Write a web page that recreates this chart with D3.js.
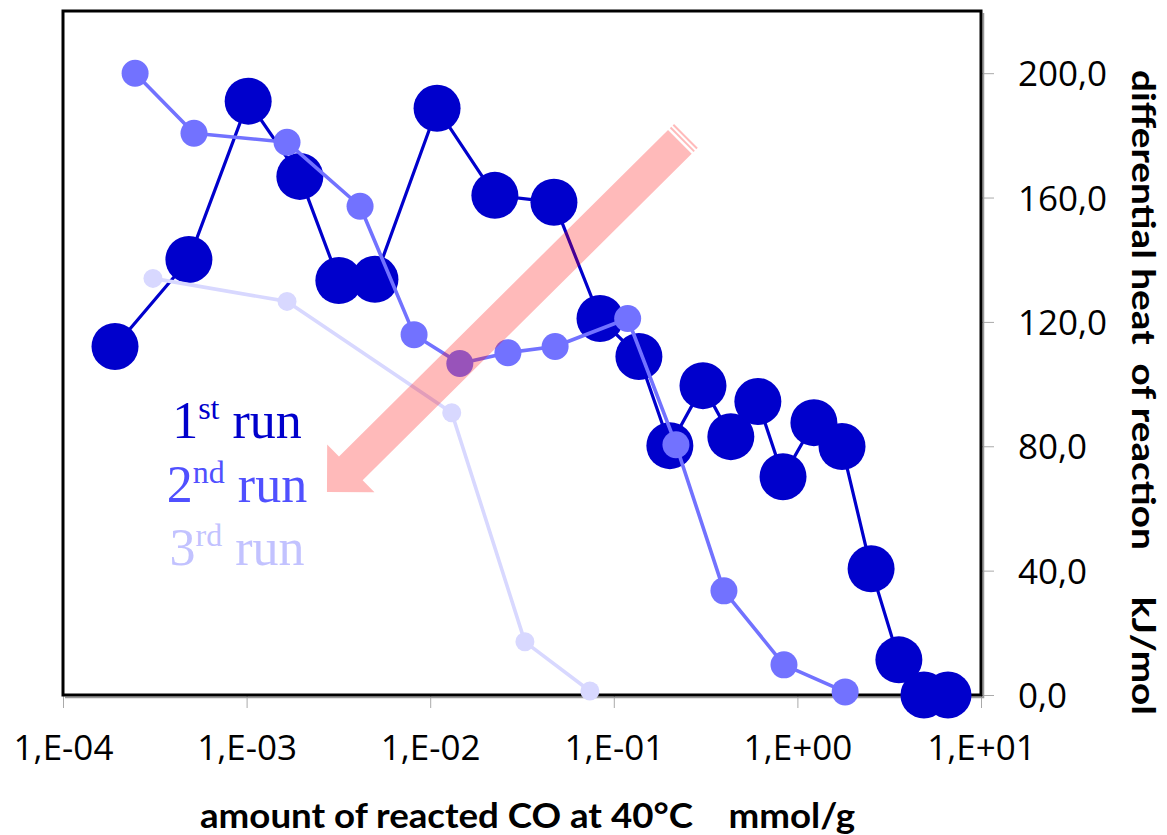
<!DOCTYPE html>
<html>
<head>
<meta charset="utf-8">
<script src="https://cdn.jsdelivr.net/npm/d3@7"></script>
<style>
  html, body { margin: 0; padding: 0; background: #fff; }
  svg { display: block; }
</style>
</head>
<body>
<svg id="chart" width="1167" height="835"></svg>
<script>
// Amount of reacted CO (mmol/g) and differential heat (kJ/mol), three adsorption runs
const run1X = [1.92e-4, 4.85e-4, 1.02e-3, 1.95e-3, 3.18e-3, 5.0e-3, 1.09e-2, 2.25e-2, 4.72e-2, 8.41e-2, 0.137, 0.202, 0.306, 0.434, 0.609, 0.835, 1.23, 1.75, 2.52, 3.57, 4.89, 6.61];
const run1Y = [112.1, 140.1, 191.0, 166.8, 133.3, 133.7, 188.7, 160.7, 158.5, 121.1, 108.9, 80.2, 99.5, 83.1, 94.4, 70.2, 87.6, 79.9, 40.6, 11.3, 0.0, 0.0];

const run2X = [2.47e-4, 5.17e-4, 1.66e-3, 4.15e-3, 8.17e-3, 1.45e-2, 2.65e-2, 4.79e-2, 0.119, 0.218, 0.398, 0.845, 1.82];
const run2Y = [200.0, 180.7, 177.8, 157.2, 115.9, 106.6, 110.1, 112.1, 121.1, 80.5, 33.5, 9.7, 1.0];

const run3X = [3.09e-4, 1.66e-3, 1.31e-2, 3.28e-2, 7.41e-2];
const run3Y = [134.0, 126.6, 90.8, 17.1, 1.3];

const xTicks = [1e-4, 1e-3, 1e-2, 1e-1, 1e0, 1e1];
const xTickLabels = ["1,E-04", "1,E-03", "1,E-02", "1,E-01", "1,E+00", "1,E+01"];
const yTicks = [0, 40, 80, 120, 160, 200];
const yTickLabels = ["0,0", "40,0", "80,0", "120,0", "160,0", "200,0"];

const runNames = [["1", "st", " run"], ["2", "nd", " run"], ["3", "rd", " run"]];

// trend arrow, from its tail to its tip, in data units
const arrowFrom = [0.229, 177.9];
const arrowTo = [2.74e-3, 65.3];

const svg = d3.select("#chart");
const plot = { left: 63, right: 981, top: 11, bottom: 695 };

const x = d3.scaleLog().domain([1e-4, 1e1]).range([plot.left, plot.right]);
const y = d3.scaleLinear().domain([0, 220]).range([plot.bottom, plot.top]);

const tickFont = "'Open Sans', 'DejaVu Sans', sans-serif";
const titleFont = "Lato, 'Open Sans', sans-serif";

// x axis (bottom)
const xAxis = d3.axisBottom(x).tickValues(xTicks).tickSize(13).tickSizeOuter(0)
  .tickFormat((d, i) => xTickLabels[i]);
const gx = svg.append("g").attr("transform", `translate(0,${plot.bottom})`).call(xAxis);
gx.select(".domain").attr("stroke", "#888").attr("stroke-width", 1);
gx.selectAll(".tick line").attr("stroke", "#aaa").attr("stroke-width", 1);
gx.selectAll(".tick text").attr("font-family", tickFont).attr("font-size", 35)
  .attr("fill", "#000").attr("y", 0).attr("dy", null).attr("transform", "translate(0,65)");

// y axis (right)
const yAxis = d3.axisRight(y).tickValues(yTicks).tickSize(13).tickSizeOuter(0)
  .tickFormat((d, i) => yTickLabels[i]);
const gy = svg.append("g").attr("transform", `translate(${plot.right},0)`).call(yAxis);
gy.select(".domain").attr("stroke", "#888").attr("stroke-width", 1);
gy.selectAll(".tick line").attr("stroke", "#aaa").attr("stroke-width", 1);
gy.selectAll(".tick text").attr("font-family", tickFont).attr("font-size", 35)
  .attr("fill", "#000").attr("x", 37).attr("dy", "0.36em");

// plot frame, with a grey shade along the right and bottom edges
svg.append("path")
  .attr("d", `M${plot.right + 2.5},${plot.top + 2}V${plot.bottom + 2.5}H${plot.left + 2}`)
  .attr("fill", "none").attr("stroke", "#999").attr("stroke-width", 1.5);
svg.append("rect")
  .attr("x", plot.left).attr("y", plot.top)
  .attr("width", plot.right - plot.left).attr("height", plot.bottom - plot.top)
  .attr("fill", "none").attr("stroke", "#000").attr("stroke-width", 3);

// series
const series = [
  { xs: run1X, ys: run1Y, color: "#0000CC", r: 23.5, w: 3.2 },
  { xs: run2X, ys: run2Y, color: "#7272FF", r: 13.5, w: 3.6 },
  { xs: run3X, ys: run3Y, color: "#D8D8FF", r: 9.5, w: 3.6 }
];
const line = d3.line().x(d => x(d[0])).y(d => y(d[1]));
series.forEach(s => {
  const pts = s.xs.map((v, i) => [v, s.ys[i]]);
  const g = svg.append("g");
  g.append("path").datum(pts).attr("d", line)
    .attr("fill", "none").attr("stroke", s.color).attr("stroke-width", s.w)
    .attr("stroke-linejoin", "round");
  g.selectAll("circle").data(pts).join("circle")
    .attr("cx", d => x(d[0])).attr("cy", d => y(d[1])).attr("r", s.r)
    .attr("fill", s.color);
});

// legend text
const legendColors = ["#0000CC", "#5050FF", "#C2C2FF"];
const legend = svg.append("g")
  .attr("font-family", "'Liberation Serif', 'Times New Roman', serif")
  .attr("text-anchor", "middle");
runNames.forEach((parts, i) => {
  const t = legend.append("text")
    .attr("x", 237).attr("y", 438 + i * 63.5)
    .attr("font-size", 52).attr("fill", legendColors[i]);
  t.append("tspan").text(parts[0]);
  t.append("tspan").attr("font-size", 32).attr("dy", -19).text(parts[1]);
  t.append("tspan").attr("dy", 19).text(parts[2]);
});

// trend arrow: semi-transparent red, with a striped tail
(function drawArrow() {
  const P0 = [x(arrowFrom[0]), y(arrowFrom[1])];
  const P1 = [x(arrowTo[0]), y(arrowTo[1])];
  const dx = P1[0] - P0[0], dy = P1[1] - P0[1];
  const len = Math.hypot(dx, dy);
  const u = [dx / len, dy / len];
  const n = [-u[1], u[0]];
  const hw = 16.8, headHalf = 33.6, headLen = 33.6;
  const at = (s, t) => [P0[0] + u[0] * s + n[0] * t, P0[1] + u[1] * s + n[1] * t];
  const body = [
    at(0, -hw), at(len - headLen, -hw), at(len - headLen, -headHalf),
    at(len, 0),
    at(len - headLen, headHalf), at(len - headLen, hw), at(0, hw)
  ];
  const g = svg.append("g").attr("fill", "#FF0000").attr("fill-opacity", 0.27);
  g.append("path").attr("d", "M" + body.map(p => p.join(",")).join("L") + "Z");
  [[-4.5, -2.5], [-8.5, -6.5]].forEach(([a, b]) => {
    const q = [at(a, -hw), at(b, -hw), at(b, hw), at(a, hw)];
    g.append("path").attr("d", "M" + q.map(p => p.join(",")).join("L") + "Z");
  });
})();

// axis titles
svg.append("text")
  .attr("x", 527.5).attr("y", 828)
  .attr("text-anchor", "middle")
  .attr("font-family", titleFont).attr("font-weight", "bold").attr("font-size", 35)
  .attr("fill", "#000")
  .attr("xml:space", "preserve")
  .attr("textLength", 655).attr("lengthAdjust", "spacingAndGlyphs")
  .text("amount of reacted CO at 40°C    mmol/g");

svg.append("text")
  .attr("transform", "translate(1132,392.5) rotate(90)")
  .attr("text-anchor", "middle")
  .attr("font-family", titleFont).attr("font-weight", "bold").attr("font-size", 33)
  .attr("fill", "#000")
  .attr("xml:space", "preserve")
  .attr("textLength", 645).attr("lengthAdjust", "spacingAndGlyphs")
  .text("differential heat  of reaction     kJ/mol");
</script>
</body>
</html>
